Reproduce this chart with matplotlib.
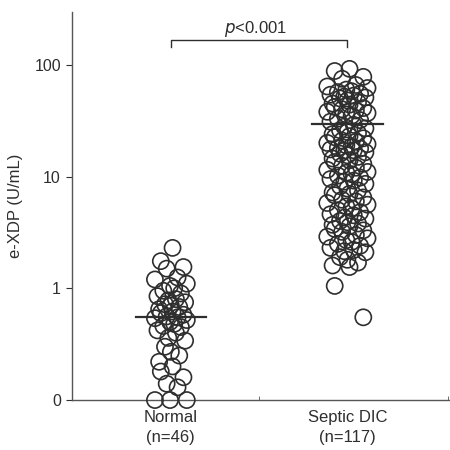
import matplotlib.pyplot as plt
import numpy as np

plt.rcParams['font.family'] = ['Liberation Sans', 'DejaVu Sans']

groups = ['Normal\n(n=46)', 'Septic DIC\n(n=117)']

normal = [2.3, 1.75, 1.55, 1.5, 1.25, 1.2, 1.1, 1.05, 1.0, 0.95,
          0.9, 0.85, 0.8, 0.78, 0.75, 0.72, 0.7, 0.68, 0.65, 0.62,
          0.6, 0.58, 0.56, 0.55, 0.54, 0.52, 0.5, 0.48, 0.46, 0.45,
          0.42, 0.4, 0.36, 0.34, 0.3, 0.27, 0.25, 0.22, 0.2, 0.18,
          0.16, 0.14, 0.13, 0, 0, 0]

septic = [92, 88, 78, 75,
          66, 64, 62, 60, 58, 57, 55, 54, 53, 52, 51, 50,
          48, 46, 45, 44, 42, 41, 40, 39, 38, 37, 36, 35, 33, 32, 31,
          29, 28, 27, 26, 25, 24.5, 24, 23, 22.5, 22, 21, 20.5, 20, 19.5,
          19, 18.5, 18, 17.8, 17.5, 17.2, 17,
          16.5, 16, 15.5, 15, 14.5, 14, 13.5, 13, 12.5, 12, 11.5, 11, 10.8,
          10.5, 10.2,
          9.8, 9.5, 9.2, 9, 8.6, 8.2, 7.8, 7.5, 7.2, 7, 6.8, 6.5, 6.2, 6,
          5.8, 5.6, 5.4, 5.2, 5, 4.8, 4.6, 4.5, 4.3, 4.2, 4.0, 3.9, 3.8, 3.7,
          3.6, 3.4, 3.3, 3.2, 3.0, 2.9, 2.8, 2.7, 2.6, 2.5, 2.4, 2.3, 2.2, 2.15,
          2.1, 1.9, 1.8, 1.7, 1.6, 1.55,
          1.05, 0.55]

center_lines = [0.55, 29.5]
p_text = '$p$<0.001'

ink = '#2e2e2e'
floor = 0.1  # zero values are drawn on the axis floor

fig = plt.figure(figsize=(4.5, 4.5), dpi=100)
ax = fig.add_axes([0.16, 0.111, 0.838, 0.862])

# deterministic spread pattern for the dot columns
pattern = np.array([0.1, -0.6, 0.75, -0.25, 0.4, -0.95, 0.95, -0.05, 0.2, -0.45,
                    0.6, -0.8, 0.3, -0.15, 0.85, -0.35, 0.0, 0.5, -0.7])
for i, (vals, half) in enumerate([(normal, 0.095), (septic, 0.12)]):
    v = np.maximum(np.array(vals, dtype=float), floor)
    xs = i + pattern[np.arange(len(v)) % len(pattern)] * half
    ax.scatter(xs, v, s=135, facecolors='none', edgecolors=ink, linewidths=1.2,
               clip_on=False, zorder=3)
    ax.plot([i - 0.2, i + 0.2], [center_lines[i]] * 2, color=ink, lw=1.6, zorder=4)

ax.set_yscale('log')
ax.set_ylim(0.1, 296)
ax.set_xlim(-0.56, 1.576)
ax.set_yticks([0.1, 1, 10, 100])
ax.set_yticklabels(['0', '1', '10', '100'])
ax.yaxis.set_minor_locator(plt.NullLocator())
ax.set_xticks([0, 1])
ax.set_xticklabels(groups, linespacing=1.45)
ax.set_xticks([0.5, 1.57], minor=True)
ax.tick_params(axis='x', which='major', length=0, labelsize=12, pad=7, colors=ink)
ax.tick_params(axis='x', which='minor', length=3, direction='in', color='#555')
ax.tick_params(axis='y', length=4, direction='out', labelsize=11.5, pad=4, colors=ink)
ax.set_ylabel('e-XDP (U/mL)', fontsize=12, color=ink, labelpad=8)

for s in ['top', 'right']:
    ax.spines[s].set_visible(False)
for s in ['left', 'bottom']:
    ax.spines[s].set_color('#555')
    ax.spines[s].set_linewidth(1.0)

# significance bracket
ax.plot([0, 0, 1, 1], [144, 166, 166, 144], color=ink, lw=1.0, clip_on=False)
ax.text(0.48, 192, p_text, ha='center', va='baseline', fontsize=12, color=ink)

fig.savefig('out.png', dpi=100)
